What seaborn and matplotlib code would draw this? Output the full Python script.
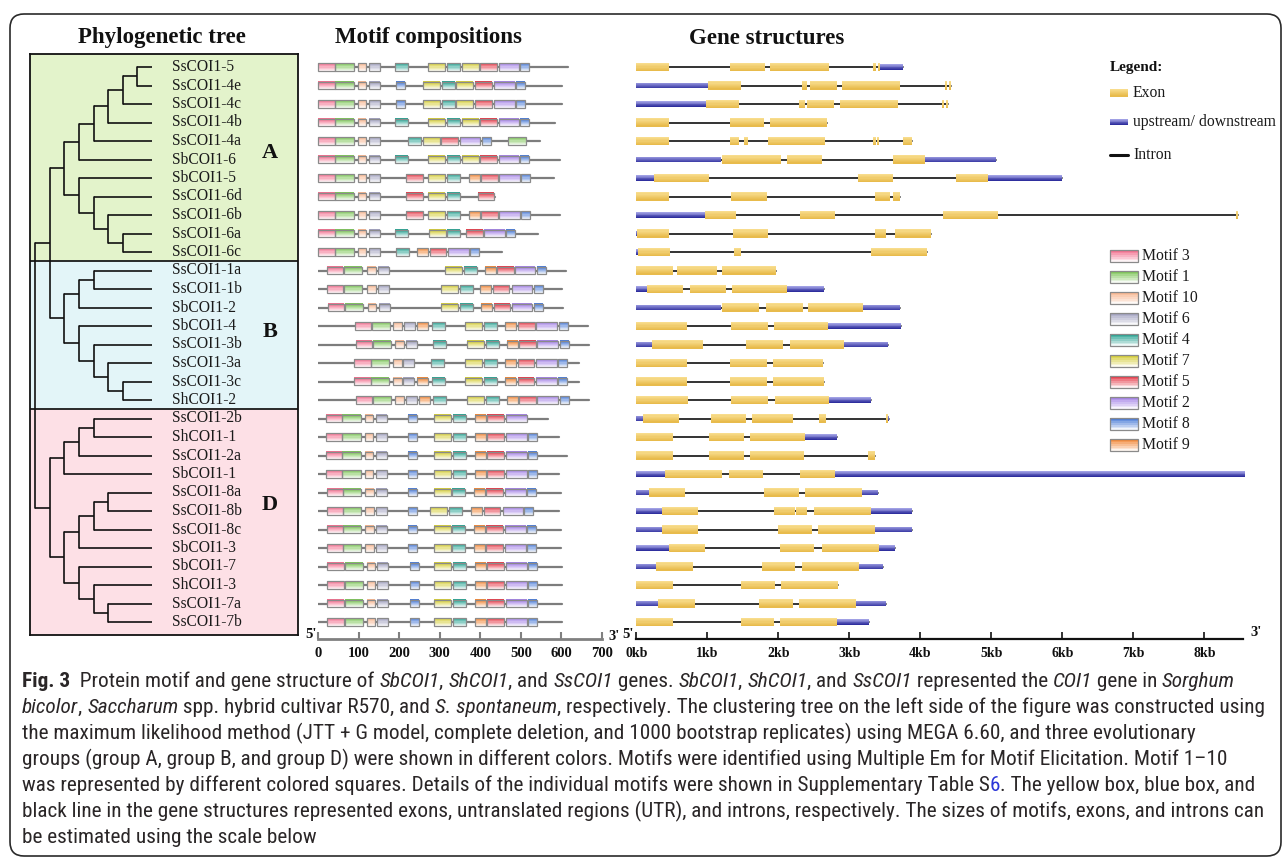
import matplotlib
matplotlib.use('Agg')
import matplotlib.pyplot as plt
import numpy as np
import pandas as pd
import seaborn as sns
from matplotlib.patches import FancyBboxPatch
from matplotlib import font_manager, colors as mcolors
from matplotlib.font_manager import FontProperties

# ---------------------------------------------------------------- data
genes = ["SsCOI1-5", "SsCOI1-4e", "SsCOI1-4c", "SsCOI1-4b", "SsCOI1-4a", "SbCOI1-6",
         "SbCOI1-5", "SsCOI1-6d", "SsCOI1-6b", "SsCOI1-6a", "SsCOI1-6c",
         "SsCOI1-1a", "SsCOI1-1b", "SbCOI1-2", "SbCOI1-4", "SsCOI1-3b", "SsCOI1-3a",
         "SsCOI1-3c", "ShCOI1-2",
         "SsCOI1-2b", "ShCOI1-1", "SsCOI1-2a", "SbCOI1-1", "SsCOI1-8a", "SsCOI1-8b",
         "SsCOI1-8c", "SbCOI1-3", "SbCOI1-7", "ShCOI1-3", "SsCOI1-7a", "SsCOI1-7b"]
group_names = ["A", "B", "D"]
group_sizes = [11, 8, 12]

# tree: (node depth level, [children]); leaves are gene names (level 8)
tree = (0, [
    (1, [
        (2, [(3, [(4, [(5, [(6, [(7, ["SsCOI1-5", "SsCOI1-4e"]), "SsCOI1-4c"]), "SsCOI1-4b"]),
                       "SsCOI1-4a"]), "SbCOI1-6"]),
             (3, ["SbCOI1-5", (4, ["SsCOI1-6d", (5, ["SsCOI1-6b", (6, ["SsCOI1-6a", "SsCOI1-6c"])])])])]),
        (2, [(3, [(4, ["SsCOI1-1a", "SsCOI1-1b"]), "SbCOI1-2"]),
             (3, ["SbCOI1-4", (4, ["SsCOI1-3b", (5, ["SsCOI1-3a", (6, ["SsCOI1-3c", "ShCOI1-2"])])])])])]),
    (1, [
        (2, [(3, [(4, ["SsCOI1-2b", "ShCOI1-1"]), "SsCOI1-2a"]), "SbCOI1-1"]),
        (2, [(3, [(4, [(5, ["SsCOI1-8a", "SsCOI1-8b"]), "SsCOI1-8c"]), "SbCOI1-3"]),
             (3, ["SbCOI1-7", (4, ["ShCOI1-3", (5, ["SsCOI1-7a", "SsCOI1-7b"])])])])])])

# motif composition (aa)
protein_length = [616, 601, 601, 585, 548, 597, 581, 436, 597, 542, 454,
                  612, 601, 604, 665, 669, 644, 644, 669,
                  567, 593, 614, 595, 599, 593, 599, 599, 601, 601, 601, 601]
motif_ids = [
    [3, 1, 10, 6, 4, 7, 4, 7, 5, 2, 8],
    [3, 1, 10, 6, 8, 7, 4, 7, 5, 2, 8],
    [3, 1, 10, 6, 8, 7, 4, 7, 5, 2, 8],
    [3, 1, 10, 6, 4, 7, 4, 7, 5, 2, 8],
    [3, 1, 10, 6, 4, 7, 5, 2, 8, 1],
    [3, 1, 10, 6, 4, 7, 4, 7, 5, 2, 8],
    [3, 1, 10, 6, 5, 7, 4, 9, 5, 2, 8],
    [3, 1, 10, 6, 5, 7, 4, 5],
    [3, 1, 10, 6, 5, 7, 4, 9, 5, 2, 8],
    [3, 1, 10, 6, 4, 7, 4, 5, 2, 8],
    [3, 1, 10, 6, 4, 9, 5, 2, 8],
    [3, 1, 10, 6, 7, 4, 9, 5, 2, 8],
    [3, 1, 10, 6, 7, 4, 9, 5, 2, 8],
    [3, 1, 10, 6, 7, 4, 9, 5, 2, 8],
    [3, 1, 10, 6, 9, 4, 7, 4, 9, 5, 2, 8],
    [3, 1, 10, 6, 4, 7, 4, 9, 5, 2, 8],
    [3, 1, 10, 6, 4, 7, 4, 9, 5, 2, 8],
    [3, 1, 10, 6, 9, 4, 7, 4, 9, 5, 2, 8],
    [3, 1, 10, 6, 9, 4, 7, 4, 9, 5, 2, 8],
    [3, 1, 10, 6, 8, 7, 4, 9, 5, 2],
    [3, 1, 10, 6, 8, 7, 4, 9, 5, 2, 8],
    [3, 1, 10, 6, 8, 7, 4, 9, 5, 2, 8],
    [3, 1, 10, 6, 8, 7, 4, 9, 5, 2, 8],
    [3, 1, 10, 6, 8, 7, 4, 9, 5, 2, 8],
    [3, 1, 10, 6, 8, 7, 4, 9, 5, 2, 8],
    [3, 1, 10, 6, 8, 7, 4, 9, 5, 2, 8],
    [3, 1, 10, 6, 8, 7, 4, 9, 5, 2, 8],
    [3, 1, 10, 6, 8, 7, 4, 9, 5, 2, 8],
    [3, 1, 10, 6, 8, 7, 4, 9, 5, 2, 8],
    [3, 1, 10, 6, 8, 7, 4, 9, 5, 2, 8],
    [3, 1, 10, 6, 8, 7, 4, 9, 5, 2, 8],
]
motif_starts = [
    [1, 43, 98, 126, 189, 271, 317, 354, 400, 445, 499],
    [1, 43, 98, 126, 193, 258, 306, 341, 388, 435, 489],
    [1, 43, 98, 126, 193, 258, 306, 341, 388, 435, 489],
    [1, 43, 98, 126, 189, 271, 317, 354, 400, 445, 499],
    [1, 43, 98, 126, 222, 258, 304, 349, 404, 468],
    [1, 43, 98, 126, 189, 271, 317, 354, 400, 445, 499],
    [1, 43, 98, 126, 217, 272, 318, 372, 402, 447, 501],
    [1, 43, 98, 126, 217, 272, 318, 394],
    [1, 43, 98, 126, 217, 272, 318, 372, 402, 447, 501],
    [1, 43, 98, 126, 189, 273, 318, 365, 410, 464],
    [1, 43, 98, 126, 193, 244, 275, 321, 374],
    [21, 64, 121, 148, 313, 359, 411, 441, 486, 541],
    [21, 64, 121, 148, 302, 349, 400, 431, 477, 532],
    [24, 66, 123, 150, 304, 351, 402, 433, 478, 533],
    [90, 132, 185, 212, 244, 280, 363, 410, 462, 493, 538, 593],
    [93, 136, 190, 216, 283, 368, 413, 465, 496, 541, 596],
    [89, 130, 185, 210, 279, 363, 409, 462, 492, 538, 591],
    [89, 130, 185, 210, 244, 280, 363, 409, 462, 492, 538, 591],
    [93, 136, 190, 216, 249, 283, 368, 413, 465, 496, 541, 596],
    [19, 60, 115, 142, 221, 285, 332, 388, 417, 464],
    [19, 60, 115, 142, 221, 285, 332, 388, 417, 464, 518],
    [19, 60, 115, 142, 221, 285, 332, 388, 417, 464, 518],
    [19, 60, 115, 142, 221, 285, 332, 388, 417, 464, 518],
    [21, 62, 117, 144, 223, 285, 331, 384, 414, 462, 515],
    [21, 62, 117, 144, 223, 277, 324, 378, 408, 455, 507],
    [21, 62, 117, 144, 223, 285, 331, 384, 414, 462, 515],
    [21, 62, 117, 144, 223, 285, 331, 384, 414, 462, 515],
    [23, 66, 120, 146, 226, 287, 332, 388, 417, 464, 518],
    [23, 66, 120, 146, 226, 287, 332, 388, 417, 464, 518],
    [23, 66, 120, 146, 226, 287, 332, 388, 417, 464, 518],
    [23, 66, 120, 146, 226, 287, 332, 388, 417, 464, 518],
]
motif_length = {3: 41, 1: 45, 10: 21, 6: 27, 4: 32, 7: 42, 5: 41, 2: 50, 8: 22, 9: 27}
legend_motifs = [3, 1, 10, 6, 4, 7, 5, 2, 8, 9]
motif_colors = {3: "#f2708f", 1: "#7fc65a", 10: "#f7b791", 6: "#a4a4c2", 4: "#2ea595",
                7: "#d5cd3a", 5: "#e63f4d", 2: "#a584e6", 8: "#4e7ed8", 9: "#f2893a"}

# gene structures (kb)
exons = [
    [(0, 0.455), (1.32, 1.81), (1.89, 2.71), (3.34, 3.38), (3.41, 3.43)],
    [(1.01, 1.47), (2.33, 2.41), (2.45, 2.82), (2.90, 3.72), (4.35, 4.38), (4.40, 4.43)],
    [(0.98, 1.44), (2.29, 2.38), (2.41, 2.78), (2.87, 3.69), (4.31, 4.34), (4.36, 4.39)],
    [(0, 0.455), (1.32, 1.80), (1.89, 2.69)],
    [(0, 0.455), (1.32, 1.44), (1.52, 1.57), (1.86, 2.66), (3.34, 3.37), (3.39, 3.42), (3.75, 3.89)],
    [(1.20, 2.04), (2.12, 2.62), (3.61, 4.07)],
    [(0.25, 1.03), (3.12, 3.62), (4.50, 4.95)],
    [(0, 0.455), (1.34, 1.84), (3.36, 3.57), (3.61, 3.72)],
    [(0.97, 1.41), (2.31, 2.80), (4.32, 5.10), (8.45, 8.48)],
    [(0.015, 0.46), (1.36, 1.85), (3.36, 3.51), (3.64, 4.15)],
    [(0.03, 0.48), (1.37, 1.48), (3.31, 4.09)],
    [(0, 0.52), (0.58, 1.13), (1.21, 1.97)],
    [(0.15, 0.66), (0.76, 1.27), (1.35, 2.12)],
    [(1.20, 1.73), (1.83, 2.35), (2.42, 3.19)],
    [(0, 0.72), (1.33, 1.85), (1.94, 2.70)],
    [(0.22, 0.94), (1.55, 2.07), (2.16, 2.92)],
    [(0, 0.72), (1.32, 1.84), (1.92, 2.63)],
    [(0, 0.72), (1.32, 1.84), (1.93, 2.64)],
    [(0, 0.73), (1.34, 1.85), (1.95, 2.71)],
    [(0.09, 0.60), (1.05, 1.54), (1.63, 2.21), (2.57, 2.67), (3.52, 3.545)],
    [(0, 0.51), (1.02, 1.51), (1.60, 2.38)],
    [(0, 0.51), (1.02, 1.51), (1.60, 2.36), (3.27, 3.36)],
    [(0.41, 1.20), (1.30, 1.79), (2.30, 2.80)],
    [(0.18, 0.69), (1.80, 2.29), (2.38, 3.18)],
    [(0.36, 0.87), (1.94, 2.23), (2.25, 2.41), (2.50, 3.31)],
    [(0.36, 0.87), (1.99, 2.47), (2.56, 3.36)],
    [(0.46, 0.97), (2.02, 2.50), (2.62, 3.42)],
    [(0.28, 0.80), (1.77, 2.24), (2.33, 3.14)],
    [(0, 0.52), (1.48, 1.95), (2.04, 2.84)],
    [(0.30, 0.82), (1.73, 2.20), (2.29, 3.09)],
    [(0, 0.52), (1.47, 1.94), (2.02, 2.83)],
]
utrs = [
    [(3.43, 3.76)], [(0, 1.01)], [(0, 0.98)], [], [], [(0, 1.20), (4.07, 5.06)],
    [(0, 0.25), (4.95, 5.99)], [], [(0, 0.97)], [(0, 0.015)], [(0, 0.03)],
    [], [(0, 0.15), (2.12, 2.65)], [(0, 1.20), (3.19, 3.72)], [(2.70, 3.73)],
    [(0, 0.22), (2.92, 3.54)], [], [], [(2.71, 3.31)],
    [(0, 0.09), (3.545, 3.56)], [(2.38, 2.82)], [], [(0, 0.41), (2.80, 8.57)],
    [(0, 0.18), (3.18, 3.40)], [(0, 0.36), (3.31, 3.89)], [(0, 0.36), (3.36, 3.89)],
    [(0, 0.46), (3.42, 3.65)], [(0, 0.28), (3.14, 3.47)], [], [(0, 0.30), (3.09, 3.52)],
    [(2.83, 3.28)],
]
motif_ticks = [0, 100, 200, 300, 400, 500, 600, 700]
kb_ticks = [0, 1, 2, 3, 4, 5, 6, 7, 8]

# ---------------------------------------------------------------- style
sns.set_theme(style="white")
SERIF = ['Liberation Serif', 'DejaVu Serif']
plt.rcParams['font.family'] = SERIF


def wnum(w):
    if isinstance(w, (int, float)):
        return int(w)
    return {'ultralight': 200, 'light': 300, 'normal': 400, 'regular': 400, 'book': 400,
            'medium': 500, 'semibold': 600, 'demibold': 600, 'bold': 700,
            'heavy': 800, 'black': 900}.get(str(w).lower(), 400)


fonts = {}
for f in font_manager.fontManager.ttflist:
    fonts.setdefault(f.name, []).append((wnum(f.weight), f.style))
cap_family, cap_weight = 'Open Sans', 400
for cand in ['Liberation Sans Narrow', 'Open Sans Condensed', 'Roboto Condensed',
             'Noto Sans Condensed', 'Open Sans']:
    if cand in fonts:
        ws = [w for w, s in fonts[cand] if s == 'normal' and w < 600]
        if ws:
            cap_family = cand
            cap_weight = min(ws, key=lambda w: abs(w - 400))
            break

W, H = 1284, 860
fig = plt.figure(figsize=(W / 100, H / 100), dpi=100)
fig.patch.set_facecolor('white')
Y0, DY = 67.0, 18.5   # pixel row mapping used for axes limits


def add_ax(L, R, T, B):
    ax = fig.add_axes([L / W, 1 - B / H, (R - L) / W, (B - T) / H])
    ax.set_ylim((B - Y0) / DY, (T - Y0) / DY)
    ax.set_facecolor('none')
    return ax


def blend(c, t):
    c = np.array(mcolors.to_rgb(c))
    return tuple(c * (1 - t) + np.ones(3) * t)


def grad_bars(ax, ys, lefts, widths, h, tops, bottoms, n=7, edge=None, z=3):
    ys = np.asarray(ys, float)
    tops = np.array([mcolors.to_rgb(c) for c in tops])
    bottoms = np.array([mcolors.to_rgb(c) for c in bottoms])
    for k in range(n):
        f = k / (n - 1)
        cols = tops * (1 - f) + bottoms * f
        yk = ys - h / 2 + (k + 0.5) * h / n
        ax.barh(yk, widths, left=lefts, height=h / n * 1.08, color=cols,
                linewidth=0, zorder=z, clip_on=False)
    if edge is not None:
        ax.barh(ys, widths, left=lefts, height=h, fill=False, edgecolor=edge,
                linewidth=0.9, zorder=z + 0.1, clip_on=False)


# ---------------------------------------------------------------- tree panel
axT = add_ax(30, 298, 54, 635)
axT.set_xlim((30 - 35) / 14.64, (298 - 35) / 14.64)
bounds = np.cumsum([0] + group_sizes) - 0.5
bounds[0] = (54 - Y0) / DY
bounds[-1] = (635 - Y0) / DY
gcols = ['#e3f3cb', '#e3f5f8', '#fde0e6']
for k in range(3):
    axT.axhspan(bounds[k], bounds[k + 1], color=gcols[k], zorder=0, lw=0)
for b in bounds[1:-1]:
    axT.axhline(b, color='#1a1a1a', lw=1.3, zorder=1)
leaf_row = {g: i for i, g in enumerate(genes)}


def draw_tree(node):
    if isinstance(node, str):
        return 8, leaf_row[node]
    level, children = node
    pts = [draw_tree(c) for c in children]
    ys = [p[1] for p in pts]
    for cx, cy in pts:
        axT.plot([level, cx], [cy, cy], color='#111111', lw=1.2, solid_capstyle='butt', zorder=2)
    axT.plot([level, level], [min(ys), max(ys)], color='#111111', lw=1.2, zorder=2)
    return level, (min(ys) + max(ys)) / 2


draw_tree(tree)
for i, g in enumerate(genes):
    axT.annotate(g, (8, i), xytext=(14.4, 0), textcoords='offset points',
                 va='center', ha='left', fontsize=11.2, color='#1a1a1a', family=SERIF)
for lab, r in zip(group_names, [4.65, 14.3, 23.7]):
    axT.text(0.8955, r, lab, transform=axT.get_yaxis_transform(), ha='center', va='center',
             fontsize=16, fontweight='bold', color='#111111', family=SERIF)
for s in axT.spines.values():
    s.set_color('#111111')
    s.set_linewidth(1.3)
axT.set_xticks([])
axT.set_yticks([])

# ---------------------------------------------------------------- motif panel
axM = add_ax(318, 602, 54, 639)
axM.set_xlim(0, 700)
bb = pd.DataFrame({'x': np.r_[np.zeros(len(genes)), protein_length],
                   'y': np.r_[np.arange(len(genes)), np.arange(len(genes))],
                   'unit': np.r_[np.arange(len(genes)), np.arange(len(genes))]})
sns.lineplot(data=bb, x='x', y='y', units='unit', estimator=None, sort=False,
             color='#7d7d7d', lw=1.6, ax=axM, legend=False, zorder=1)
ys, ls, ws, cs = [], [], [], []
for i in range(len(genes)):
    for m, s in zip(motif_ids[i], motif_starts[i]):
        ys.append(i); ls.append(s); ws.append(motif_length[m]); cs.append(motif_colors[m])
grad_bars(axM, ys, ls, ws, 0.43, cs, [blend(c, 0.9) for c in cs], edge='#8a8a8a')
axM.set_ylim((639 - Y0) / DY, (54 - Y0) / DY)
for k in ['top', 'right', 'left']:
    axM.spines[k].set_visible(False)
axM.spines['bottom'].set_color('#808080')
axM.spines['bottom'].set_linewidth(2)
axM.set_yticks([])
axM.set_xticks(motif_ticks)
axM.set_xticklabels([str(t) for t in motif_ticks], fontweight='bold', family=SERIF)
axM.tick_params(axis='x', bottom=True, direction='in', length=5, width=1.5, color='#808080',
                pad=6, labelsize=10.5, labelcolor='#111111')
axM.set_xlabel('')
axM.set_ylabel('')

# ---------------------------------------------------------------- gene structure panel
KB_R = (1243 - 636.3) / 71
axG = add_ax(636.3, 1243, 54, 639)
axG.set_xlim(0, KB_R)
rows = []
for i in range(len(genes)):
    segs = exons[i] + utrs[i]
    a = min(s[0] for s in segs)
    b = max(s[1] for s in segs)
    rows += [(a, i, i), (b, i, i)]
intr = pd.DataFrame(rows, columns=['x', 'y', 'unit'])
sns.lineplot(data=intr, x='x', y='y', units='unit', estimator=None, sort=False,
             color='#111111', lw=1.2, ax=axG, legend=False, zorder=1)
ey, el, ew = [], [], []
for i in range(len(genes)):
    for a, b in exons[i]:
        ey.append(i); el.append(a); ew.append(b - a)
uy, ul, uw = [], [], []
for i in range(len(genes)):
    for a, b in utrs[i]:
        uy.append(i); ul.append(a); uw.append(b - a)
EX_TOP, EX_BOT = '#f8dc8c', '#e8bb4c'
UT_TOP, UT_BOT = '#a0a0e4', '#2f2f9e'
grad_bars(axG, uy, ul, uw, 0.32, [UT_TOP] * len(uy), [UT_BOT] * len(uy))
grad_bars(axG, ey, el, ew, 0.46, [EX_TOP] * len(ey), [EX_BOT] * len(ey), z=4)
axG.set_ylim((639 - Y0) / DY, (54 - Y0) / DY)
for k in ['top', 'right', 'left']:
    axG.spines[k].set_visible(False)
axG.spines['bottom'].set_color('#111111')
axG.spines['bottom'].set_linewidth(1.6)
axG.set_yticks([])
axG.set_xticks(kb_ticks)
axG.set_xticklabels([f"{t}kb" for t in kb_ticks], fontweight='bold', family=SERIF)
axG.tick_params(axis='x', bottom=True, direction='in', length=5, width=1.2, color='#111111',
                pad=6, labelsize=10, labelcolor='#111111')
axG.set_xlabel('')
axG.set_ylabel('')

# ---------------------------------------------------------------- overlay (titles, legend, caption)
ov = fig.add_axes([0, 0, 1, 1], zorder=-1)
ov.set_xlim(0, W)
ov.set_ylim(H, 0)
ov.axis('off')
ov.add_patch(FancyBboxPatch((10, 14), 1271, 842, boxstyle='round,pad=0,rounding_size=14',
                            fill=False, edgecolor='#2a2a2a', lw=1.2))
for x, t in [(162, 'Phylogenetic tree'), (428, 'Motif compositions'), (767, 'Gene structures')]:
    ov.text(x, 38, t, ha='center', va='center', fontsize=16.5, fontweight='bold',
            family=SERIF, color='#111111')
for x, y, t in [(311, 635, "5'"), (614, 636, "3'"), (628, 635, "5'"), (1256, 632, "3'")]:
    ov.text(x, y, t, ha='center', va='center', fontsize=10.5, fontweight='bold',
            family=SERIF, color='#111111')

# legend
ov.text(1110, 67, 'Legend:', ha='left', va='center', fontsize=11, fontweight='bold',
        family=SERIF, color='#111111')
grad_bars(ov, [93], [1110], [18], 7, [EX_TOP], [EX_BOT])
grad_bars(ov, [122], [1110], [18], 5, [UT_TOP], [UT_BOT])
ov.plot([1110, 1128], [155, 155], color='#111111', lw=2.2)
for y, t in [(93, 'Exon'), (122, 'upstream/ downstream'), (155, 'Intron')]:
    ov.text(1133, y, t, ha='left', va='center', fontsize=11.3, family=SERIF, color='#1a1a1a')
lcols = [motif_colors[m] for m in legend_motifs]
lys = [256 + 21 * k for k in range(len(legend_motifs))]
grad_bars(ov, lys, [1110] * len(lys), [28] * len(lys), 12, lcols,
          [blend(c, 0.92) for c in lcols], edge='#8a8a8a')
for y, m in zip(lys, legend_motifs):
    ov.text(1142, y, f"Motif {m}", ha='left', va='center', fontsize=11.3, family=SERIF,
            color='#1a1a1a')

# caption
cap_lines = [
    [("Fig. 3", 'b'), ("  Protein motif and gene structure of ", 'n'), ("SbCOI1", 'i'), (", ", 'n'),
     ("ShCOI1", 'i'), (", and ", 'n'), ("SsCOI1", 'i'), (" genes. ", 'n'), ("SbCOI1", 'i'),
     (", ", 'n'), ("ShCOI1", 'i'), (", and ", 'n'), ("SsCOI1", 'i'), (" represented the ", 'n'),
     ("COI1", 'i'), (" gene in ", 'n'), ("Sorghum", 'i')],
    [("bicolor", 'i'), (", ", 'n'), ("Saccharum", 'i'), (" spp. hybrid cultivar R570, and ", 'n'),
     ("S. spontaneum", 'i'),
     (", respectively. The clustering tree on the left side of the figure was constructed using", 'n')],
    [("the maximum likelihood method (JTT + G model, complete deletion, and 1000 bootstrap "
      "replicates) using MEGA 6.60, and three evolutionary", 'n')],
    [("groups (group A, group B, and group D) were shown in different colors. Motifs were "
      "identified using Multiple Em for Motif Elicitation. Motif 1\u201310", 'n')],
    [("was represented by different colored squares. Details of the individual motifs were shown "
      "in Supplementary Table S", 'n'), ("6", 'blue'), (". The yellow box, blue box, and", 'n')],
    [("black line in the gene structures represented exons, untranslated regions (UTR), and "
      "introns, respectively. The sizes of motifs, exons, and introns can", 'n')],
    [("be estimated using the scale below", 'n')],
]
renderer = fig.canvas.get_renderer()


def fprops(style, size):
    return FontProperties(family=cap_family, size=size,
                          weight=700 if style == 'b' else cap_weight,
                          style='italic' if style == 'i' else 'normal')


def seg_w(text, style, size):
    fp = fprops(style, size)
    w1 = renderer.get_text_width_height_descent('x' + text + 'x', fp, ismath=False)[0]
    w0 = renderer.get_text_width_height_descent('xx', fp, ismath=False)[0]
    return w1 - w0


def line_w(segs, size):
    return sum(seg_w(t, s, size) for t, s in segs)


cap_size = 10 * 1238 / line_w(cap_lines[5], 10)
for k, segs in enumerate(cap_lines):
    x = 22
    y = 687 + 26 * k
    for t, s in segs:
        ov.text(x, y, t, ha='left', va='baseline', fontproperties=fprops(s, cap_size),
                color='#2b35d8' if s == 'blue' else '#2a2627')
        x += seg_w(t, s, cap_size)

fig.savefig('out.png', dpi=100, facecolor='white')
